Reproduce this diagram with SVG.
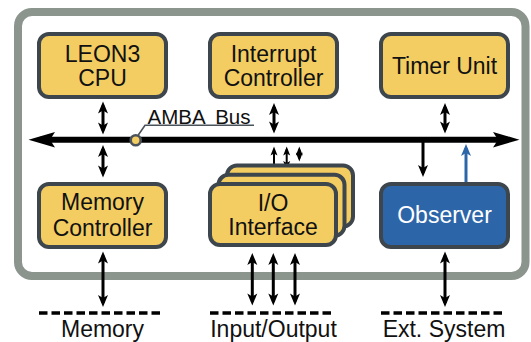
<svg xmlns="http://www.w3.org/2000/svg" width="531" height="342" viewBox="0 0 531 342">
<style>
.box{fill:#f3cd62;stroke:#3d454d;stroke-width:4}
.obs{fill:#2d66a8;stroke:#3d454d;stroke-width:4}
.t{font-family:"Liberation Sans",Arial,sans-serif;font-size:23px;fill:#111;text-anchor:middle}
.tw{fill:#fff}
.a3{stroke:#000;stroke-width:3;fill:none;marker-start:url(#hb);marker-end:url(#hb)}
.a2{stroke:#000;stroke-width:2;fill:none;marker-start:url(#hs);marker-end:url(#hs)}
.dash{stroke:#000;stroke-width:3.3;stroke-dasharray:8.5 4;fill:none}
</style>
<defs>
<marker id="hb" markerUnits="userSpaceOnUse" viewBox="-9 -6 14 12" refX="0" refY="0" markerWidth="14" markerHeight="12" orient="auto-start-reverse">
<path d="M4,0 L-8,-5 L-5,0 L-8,5 Z" fill="#000"/>
</marker>
<marker id="hs" markerUnits="userSpaceOnUse" viewBox="-7 -5 11 10" refX="0" refY="0" markerWidth="11" markerHeight="10" orient="auto-start-reverse">
<path d="M3,0 L-6,-3.5 L-4,0 L-6,3.5 Z" fill="#000"/>
</marker>
<marker id="hblue" markerUnits="userSpaceOnUse" viewBox="-9 -6 14 12" refX="0" refY="0" markerWidth="14" markerHeight="12" orient="auto">
<path d="M4,0 L-8,-5 L-5,0 L-8,5 Z" fill="#2d66a8"/>
</marker>
</defs>
<rect x="18" y="12" width="507.5" height="264" rx="14" fill="#fff" stroke="#8b948d" stroke-width="8"/>

<g id="connectors">
<line x1="40" y1="139.7" x2="508" y2="139.7" stroke="#000" stroke-width="6"/>
<path d="M28.5,139.7 L55,132 L50,139.7 L55,147.5 Z" fill="#000"/>
<path d="M519.5,139.7 L493,132 L498,139.7 L493,147.5 Z" fill="#000"/>
<line class="a3" x1="103" y1="105.5" x2="103" y2="130.5"/>
<line class="a3" x1="103" y1="149" x2="103" y2="173.5"/>
<line class="a3" x1="274" y1="107" x2="274" y2="129.5"/>
<line class="a3" x1="445" y1="107" x2="445" y2="129.5"/>
<line class="a2" x1="274" y1="149.5" x2="274" y2="176.5"/>
<line class="a2" x1="286.7" y1="149.5" x2="286.7" y2="167"/>
<line class="a2" x1="299.3" y1="149.5" x2="299.3" y2="158.5"/>
<line x1="423" y1="142" x2="423" y2="173" stroke="#000" stroke-width="3" marker-end="url(#hb)"/>
<line x1="466" y1="182" x2="466" y2="148" stroke="#2d66a8" stroke-width="3" marker-end="url(#hblue)"/>
<line class="a3" x1="103" y1="255.5" x2="103" y2="303"/>
<line class="a3" x1="252.3" y1="257" x2="252.3" y2="301.5"/>
<line class="a3" x1="273.3" y1="257" x2="273.3" y2="301.5"/>
<line class="a3" x1="295" y1="257" x2="295" y2="301.5"/>
<line class="a3" x1="445" y1="255.5" x2="445" y2="303"/>
<line class="dash" x1="39" y1="313" x2="164" y2="313"/>
<line class="dash" x1="210" y1="313" x2="335" y2="313"/>
<line class="dash" x1="381" y1="313" x2="506" y2="313"/>
</g>

<g id="amba-bus-label">
<polyline points="138.3,135 145,125.3 254,125.3" fill="none" stroke="#4a525a" stroke-width="1.6"/>
<circle cx="135.7" cy="140.2" r="5" fill="#f3cd62" stroke="#4a525a" stroke-width="2.6"/>
<text x="147.5" y="123.5" font-family="'Liberation Sans',Arial,sans-serif" font-size="20.5" word-spacing="5" fill="#111">AMBA Bus</text>
</g>

<g id="leon3-cpu">
<rect class="box" x="39" y="34" width="127" height="63" rx="10"/>
<text class="t" x="102.5" y="61.5">LEON3</text>
<text class="t" x="102.5" y="86">CPU</text>
</g>
<g id="interrupt-controller">
<rect class="box" x="210" y="34" width="127" height="63" rx="10"/>
<text class="t" x="273.5" y="61.5">Interrupt</text>
<text class="t" x="273.5" y="86">Controller</text>
</g>
<g id="timer-unit">
<rect class="box" x="381" y="34" width="127" height="63" rx="10"/>
<text class="t" x="444.5" y="73.5">Timer Unit</text>
</g>
<g id="memory-controller">
<rect class="box" x="39" y="184" width="127" height="63" rx="10"/>
<text class="t" x="102.5" y="209.5">Memory</text>
<text class="t" x="102.5" y="235.5">Controller</text>
</g>
<g id="io-interface">
<rect class="box" x="227" y="165.5" width="126" height="61" rx="10"/>
<rect class="box" x="218.5" y="174.8" width="126" height="61" rx="10"/>
<rect class="box" x="210" y="184" width="126" height="61" rx="10"/>
<text class="t" x="273" y="210.8">I/O</text>
<text class="t" x="273" y="234.5">Interface</text>
</g>
<g id="observer">
<rect class="obs" x="381" y="184" width="127" height="63" rx="10"/>
<text class="t tw" x="444.5" y="223">Observer</text>
</g>
<g id="memory">
<text class="t" x="102.5" y="336.5">Memory</text>
</g>
<g id="input-output">
<text class="t" x="273.5" y="336.5">Input/Output</text>
</g>
<g id="ext-system">
<text class="t" x="444" y="336.5">Ext. System</text>
</g>
</svg>
